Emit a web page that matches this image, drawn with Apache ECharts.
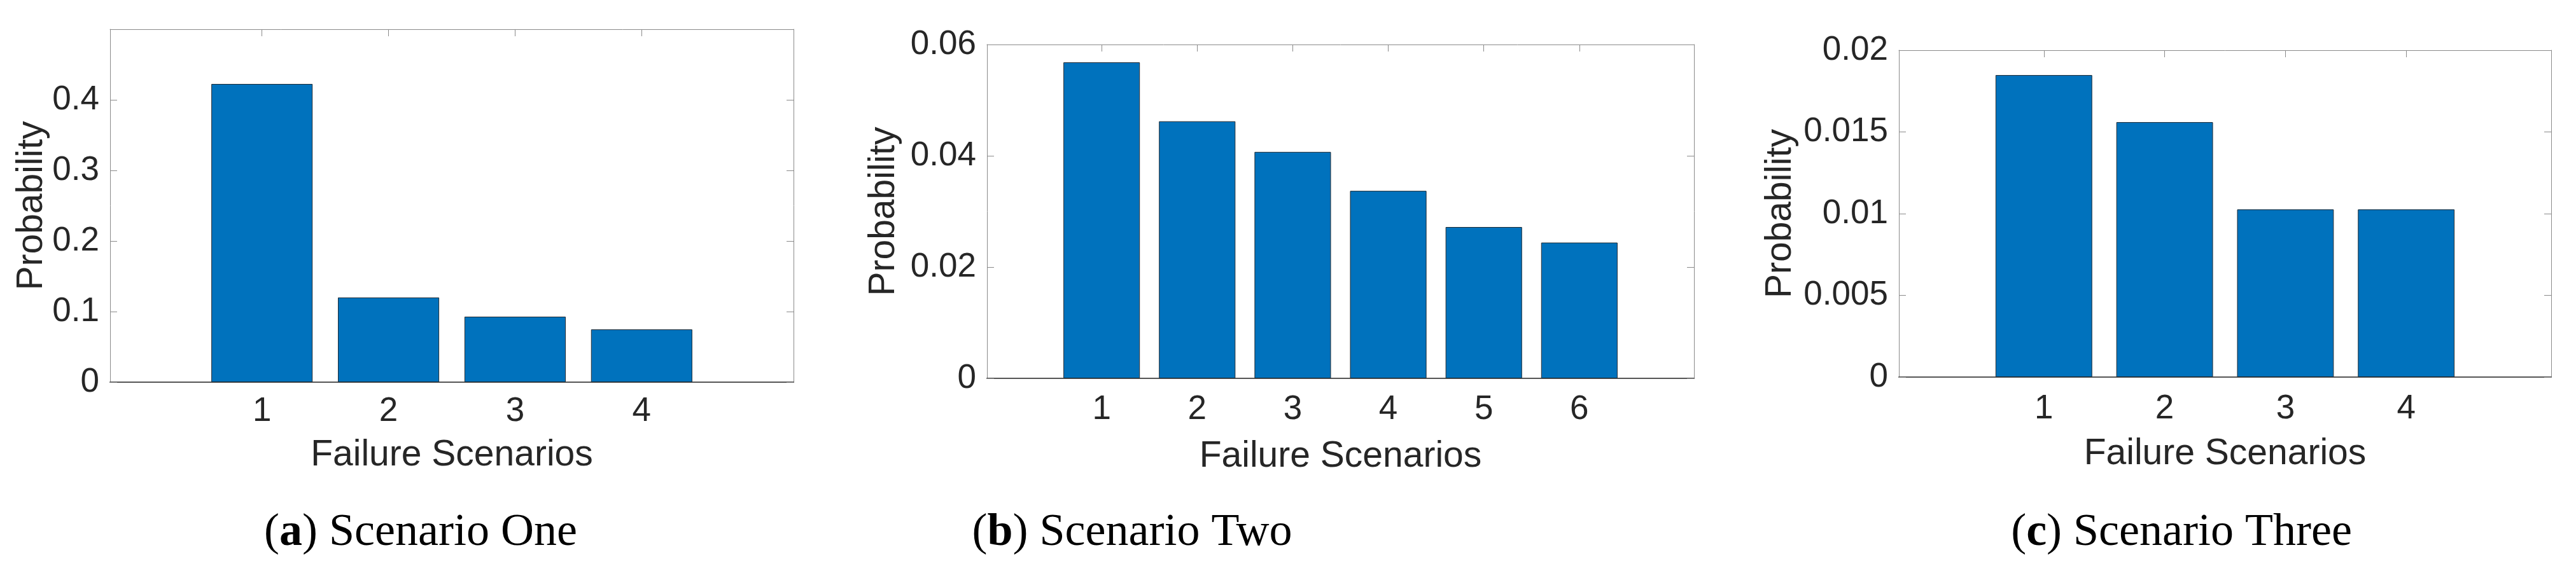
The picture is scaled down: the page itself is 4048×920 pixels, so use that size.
<!DOCTYPE html>
<html>
<head>
<meta charset="utf-8">
<script src="https://cdn.jsdelivr.net/npm/echarts@6/dist/echarts.min.js"></script>
<style>
html, body { margin: 0; padding: 0; background: #fff; }
#main { width: 4048px; height: 920px; }
</style>
</head>
<body>
<div id="main"></div>
<script>
var scenariosA = [1, 2, 3, 4];
var probA = [0.4225, 0.120, 0.0928, 0.0748];
var scenariosB = [1, 2, 3, 4, 5, 6];
var probB = [0.0568, 0.0462, 0.0407, 0.0337, 0.0272, 0.0244];
var scenariosC = [1, 2, 3, 4];
var probC = [0.01848, 0.0156, 0.01026, 0.01026];
var yMaxes = [0.5, 0.06, 0.02];
var yIntervals = [0.1, 0.02, 0.005];
var captionTags = ['a', 'b', 'c'];
var captionTexts = ['Scenario One', 'Scenario Two', 'Scenario Three'];
var xName = 'Failure Scenarios';
var yName = 'Probability';

var xs = [scenariosA, scenariosB, scenariosC];
var ys = [probA, probB, probC];

// layout per panel
var grids = [
    { left: 173, top: 46, width: 1074, height: 555 },
    { left: 1551, top: 70, width: 1111, height: 525 },
    { left: 2984, top: 79, width: 1025, height: 514 }
];
var xLabelMargin = [20, 23, 24];
var xNameGap = [87, 95, 93];
var yNameGap = [90, 133, 157];
var captionX = [661, 1779, 3428];

var sans = 'Liberation Sans, Arial, sans-serif';
var textColor = '#262626';
var boxLine = { show: true, onZero: false, lineStyle: { color: '#8a8a8a', width: 1 } };

var xAxes = [], yAxes = [], series = [], graphics = [];

for (var i = 0; i < 3; i++) {
    var n = xs[i].length;
    xAxes.push({
        type: 'value', gridIndex: i, position: 'bottom',
        min: -0.2, max: n + 1.2,
        name: xName, nameLocation: 'middle', nameGap: xNameGap[i],
        nameTextStyle: { fontFamily: sans, fontSize: 57, color: textColor },
        axisLine: { show: true, onZero: false, lineStyle: { color: '#555', width: 2 } },
        axisTick: { show: true, inside: true, length: 11, customValues: xs[i], lineStyle: { color: '#555', width: 1.5 } },
        axisLabel: { customValues: xs[i], margin: xLabelMargin[i], fontFamily: sans, fontSize: 53, color: textColor },
        splitLine: { show: false }
    });
    xAxes.push({
        type: 'value', gridIndex: i, position: 'top',
        min: -0.2, max: n + 1.2,
        axisLine: boxLine,
        axisTick: { show: true, inside: true, length: 11, customValues: xs[i], lineStyle: { color: '#8a8a8a' } },
        axisLabel: { show: false },
        splitLine: { show: false }
    });
    yAxes.push({
        type: 'value', gridIndex: i, position: 'left',
        min: 0, max: yMaxes[i], interval: yIntervals[i],
        name: yName, nameLocation: 'middle', nameGap: yNameGap[i],
        nameTextStyle: { fontFamily: sans, fontSize: 57, color: textColor },
        axisLine: boxLine,
        axisTick: { show: true, inside: true, length: 11, lineStyle: { color: '#8a8a8a' } },
        axisLabel: { margin: 17, fontFamily: sans, fontSize: 53, color: textColor, showMaxLabel: i !== 0 },
        splitLine: { show: false }
    });
    yAxes.push({
        type: 'value', gridIndex: i, position: 'right',
        min: 0, max: yMaxes[i], interval: yIntervals[i],
        axisLine: boxLine,
        axisTick: { show: true, inside: true, length: 11, lineStyle: { color: '#8a8a8a' } },
        axisLabel: { show: false },
        splitLine: { show: false }
    });
    series.push({
        type: 'bar',
        xAxisIndex: i * 2, yAxisIndex: i * 2,
        data: xs[i].map(function (x, j) { return [x, ys[i][j]]; }),
        barWidth: '80%',
        itemStyle: { color: '#0072BD', borderColor: '#1f2a33', borderWidth: 1 },
        silent: true
    });
    graphics.push({
        type: 'text', x: captionX[i], y: 838,
        style: {
            text: '({b|' + captionTags[i] + '}) ' + captionTexts[i],
            fontFamily: 'Liberation Serif, Times New Roman, serif',
            fontSize: 72, fill: '#000',
            align: 'center', verticalAlign: 'middle',
            rich: { b: { fontWeight: 'bold', fontFamily: 'Liberation Serif, Times New Roman, serif', fontSize: 72, fill: '#000' } }
        }
    });
}

var chart = echarts.init(document.getElementById('main'));
chart.setOption({
    animation: false,
    backgroundColor: '#fff',
    grid: grids,
    xAxis: xAxes,
    yAxis: yAxes,
    series: series,
    graphic: graphics
});
</script>
</body>
</html>
